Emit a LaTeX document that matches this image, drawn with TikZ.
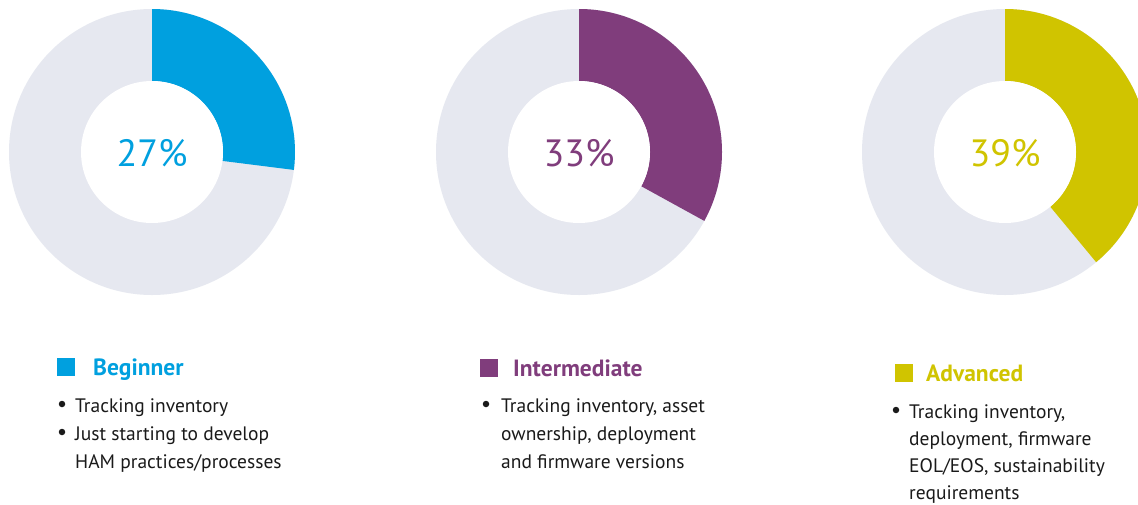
\documentclass[tikz,border=0pt]{standalone}
\usepackage{fontspec}
\setmainfont{PT Sans}
\usetikzlibrary{calc}
\definecolor{cblue}{RGB}{0,160,223}
\definecolor{cpurple}{RGB}{128,61,124}
\definecolor{cyellow}{RGB}{208,196,0}
\definecolor{cgray}{RGB}{230,232,240}
\definecolor{ctext}{RGB}{26,26,26}
\tikzset{
  pct/.style={anchor=base, font=\fontsize{38}{38}\selectfont, inner sep=0pt},
  head/.style={anchor=base west, font=\fontsize{23.5}{23.5}\selectfont\bfseries, inner sep=0pt},
  line/.style={anchor=base west, font=\fontsize{19.5}{19.5}\selectfont, text=ctext, inner sep=0pt},
  bul/.style={circle, fill=ctext, minimum size=6.5pt, inner sep=0pt},
  sq/.style={minimum size=18pt, inner sep=0pt, anchor=north west}
}
\newcommand{\donut}[4]{% center x, percent, color, name
  \coordinate (#4) at (#1,-152);
  \fill[cgray] (#4) circle (143);
  \fill[#3] ($(#4)+(90:143)$) arc[start angle=90, end angle={90-3.6*#2}, radius=143]
     -- ($(#4)+({90-3.6*#2}:71)$) arc[start angle={90-3.6*#2}, end angle=90, radius=71] -- cycle;
  \fill[white] (#4) circle (71);
}
\begin{document}
\begin{tikzpicture}[x=1pt,y=1pt]
\useasboundingbox (0,0) rectangle (1138,-504);
\clip (0,0) rectangle (1138,-504);
\fill[white] (0,0) rectangle (1138,-504);
\donut{152}{27}{cblue}{c1}
\donut{579}{33}{cpurple}{c2}
\donut{1005}{39}{cyellow}{c3}
\node[pct, text=cblue] (p1) at (152,-166) {27\%};
\node[pct, text=cpurple] (p2) at (579,-166) {33\%};
\node[pct, text=cyellow] (p3) at (1005,-166) {39\%};
% Beginner
\node[sq, fill=cblue] (s1) at (57,-358) {};
\node[head, text=cblue] (h1) at (93,-375) {Beginner};
\node[bul] (b11) at (62,-404) {};
\node[line] (t11) at (75,-412) {Tracking inventory};
\node[bul] (b12) at (62,-432) {};
\node[line] (t12) at (75,-440) {Just starting to develop};
\node[line] (t13) at (75,-468) {HAM practices/processes};
% Intermediate
\node[sq, fill=cpurple] (s2) at (480,-359) {};
\node[head, text=cpurple] (h2) at (513,-376) {Intermediate};
\node[bul] (b21) at (486,-404) {};
\node[line] (t21) at (501,-412) {Tracking inventory, asset};
\node[line] (t22) at (501,-440) {ownership, deployment};
\node[line] (t23) at (501,-468) {and firmware versions};
% Advanced
\node[sq, fill=cyellow] (s3) at (895,-364) {};
\node[head, text=cyellow] (h3) at (926,-381) {Advanced};
\node[bul] (b31) at (896,-410) {};
\node[line] (t31) at (909,-418) {Tracking inventory,};
\node[line] (t32) at (909,-445) {deployment, firmware};
\node[line] (t33) at (909,-472) {EOL/EOS, sustainability};
\node[line] (t34) at (909,-499) {requirements};
\end{tikzpicture}
\end{document}
